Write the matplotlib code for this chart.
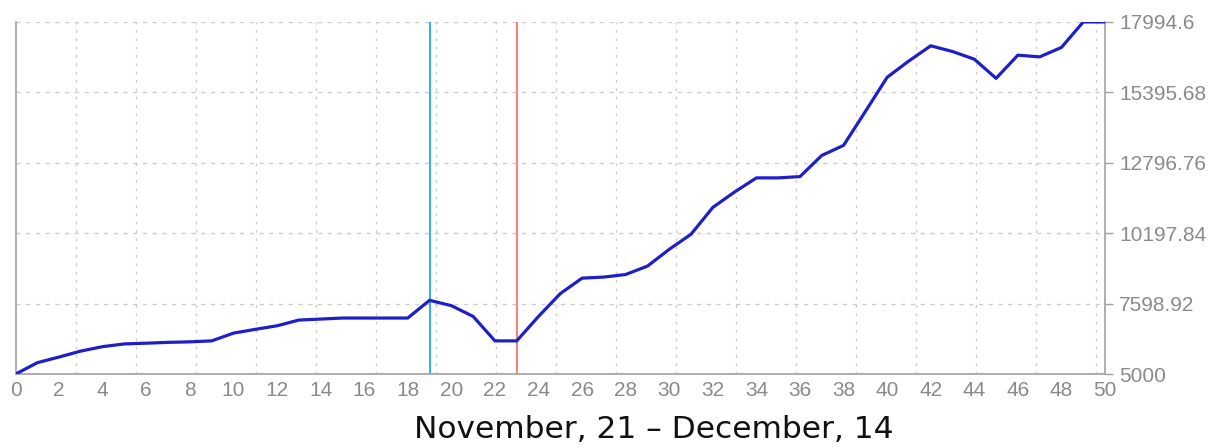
import numpy as np
import matplotlib
matplotlib.use("Agg")
import matplotlib.pyplot as plt

# %%
days = list(range(51))
balance = [
    5000, 5420, 5630, 5850, 6013, 6113, 6140, 6170, 6190, 6225,
    6511, 6650, 6782, 6993, 7030, 7068, 7068, 7068, 7068, 7722,
    7525, 7128, 6225, 6225, 7128, 7970, 8540, 8580, 8675, 8985,
    9604, 10160, 11151, 11720, 12240, 12240, 12288, 13068, 13440, 14690,
    15952, 16557, 17114, 16904, 16620, 15915, 16769, 16706, 17055, 17994.6,
    17994.6,
]
y_ticks = [5000, 7598.92, 10197.84, 12796.76, 15395.68, 17994.6]
y_labels = ["5000", "7598.92", "10197.84", "12796.76", "15395.68", "17994.6"]
x_ticks = list(range(0, 51, 2))
blue_mark = 19
red_mark = 23
x_label = "November, 21 \u2013 December, 14"

# %%
plt.rcParams['font.family'] = ['Liberation Sans', 'DejaVu Sans']
fig = plt.figure(figsize=(12.15, 4.48), dpi=100)
ax = fig.add_axes([0.0128, 0.165, 0.8967, 0.786])

gray = '#a0a0a0'
# background grid (vertical grid is on its own 60px spacing, not the ticks)
for gx in np.arange(2.755, 50, 2.755):
    ax.axvline(gx, color='#cccccc', lw=1, ls=(0, (2, 4)), zorder=0)
for gy in y_ticks[1:]:
    ax.axhline(gy, color='#cccccc', lw=1, ls=(0, (3, 4)), zorder=0)

ax.axvline(blue_mark, color='#33aaff', lw=1.4, zorder=2)
ax.axvline(red_mark, color='#ff7b7b', lw=1.4, zorder=2)
ax.plot(days, balance, color='#1f1fc8', lw=2.3, zorder=3, solid_joinstyle='round')

ax.set_xlim(0, 50)
ax.set_ylim(5000, 17994.6)
ax.set_xticks(x_ticks)
ax.set_yticks(y_ticks)
ax.set_yticklabels(y_labels)
ax.yaxis.tick_right()
ax.tick_params(axis='x', length=0, pad=5, labelsize=15, labelcolor='#8a8a8a')
ax.tick_params(axis='y', length=6, width=1, color=gray, pad=4,
               labelsize=15, labelcolor='#8a8a8a')
for s in ['left', 'bottom', 'right']:
    ax.spines[s].set_color(gray)
    ax.spines[s].set_linewidth(1.2)
ax.spines['top'].set_visible(False)

fig.text(654 / 1215, 10 / 448, x_label, fontsize=22.5, color='#111111',
         family=['DejaVu Sans'], ha='center', va='baseline')

fig.savefig('out.png', dpi=100)
